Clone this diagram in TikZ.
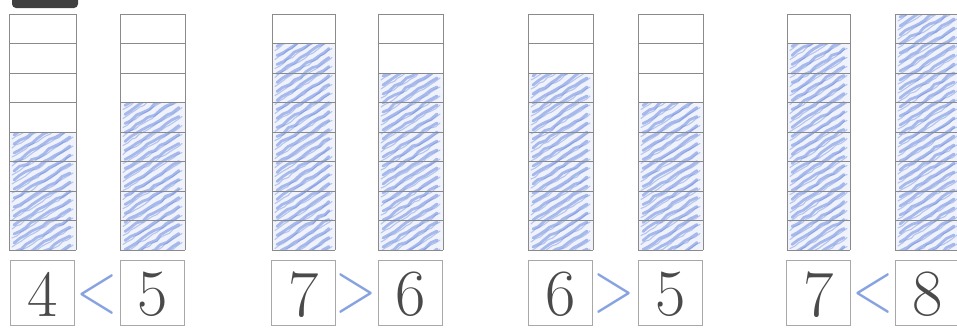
\documentclass[tikz,border=0pt]{standalone}
\usetikzlibrary{calc,decorations.pathmorphing}
\definecolor{cellline}{HTML}{8A8A8A}
\definecolor{boxline}{HTML}{A8A8A8}
\definecolor{hatchc}{HTML}{5F80DA}
\definecolor{hatchbg}{HTML}{F0F3FC}
\definecolor{numgray}{HTML}{4A4A4A}
\definecolor{cmpblue}{HTML}{86A2E0}
\tikzset{
  cellrule/.style={draw=cellline, line width=0.9pt},
  hatchstroke/.style={draw=hatchc, line width=2.8pt, line cap=round, opacity=0.5,
    decorate, decoration={random steps, segment length=7pt, amplitude=1.2pt}},
  hatchthin/.style={draw=hatchc, line width=1.1pt, line cap=round, opacity=0.4,
    decorate, decoration={random steps, segment length=5pt, amplitude=0.8pt}},
  numbox/.style={draw=boxline, line width=0.9pt, minimum width=64pt, minimum height=65pt, inner sep=0pt},
  numtext/.style={text=numgray, font=\fontsize{66}{66}\selectfont, inner sep=0pt},
  cmpsign/.style={text=cmpblue, font=\fontsize{72}{72}\selectfont, inner sep=0pt, xscale=0.75}
}
\pgfmathsetseed{7}
% #1 left x, #2 right x, #3 number of filled cells
\newcommand\barcolumn[3]{%
  \pgfmathsetmacro\ytopfill{250-29.5*#3}
  \begin{scope}
    \clip (#1,\ytopfill) rectangle (#2,250);
    \fill[hatchbg] (#1,\ytopfill) rectangle (#2,250);
    \foreach \yy in {3,12,...,300} {
      \draw[hatchstroke] (#1+5,\ytopfill+\yy) -- (#2-6,\ytopfill+\yy-34);
    }
    \foreach \yy in {7,16,...,300} {
      \draw[hatchthin] (#1+3,\ytopfill+\yy) -- (#2-3,\ytopfill+\yy-38);
    }
  \end{scope}
  \foreach \k in {0,...,8} {
    \draw[cellrule] (#1,14+29.5*\k) -- (#2,14+29.5*\k);
  }
  \draw[cellrule] (#1,14) -- (#1,250);
  \draw[cellrule] (#2,14) -- (#2,250);
}
\begin{document}
\begin{tikzpicture}[x=1pt,y=-1pt]
\useasboundingbox (0,0) rectangle (957,327);
\clip (0,0) rectangle (957,327);
\fill[white] (0,0) rectangle (957,327);
\fill[darkgray, rounded corners=4pt] (12,-12) rectangle (78,8);

\barcolumn{9}{76}{4}
\barcolumn{120}{185}{5}
\barcolumn{272}{335}{7}
\barcolumn{378}{443}{6}
\barcolumn{528}{593}{6}
\barcolumn{638}{703}{5}
\barcolumn{787}{850}{7}
\barcolumn{895}{960}{8}

\node[numbox] (b1) at (42.5,292.5) {};
\node[numbox] (b2) at (152.5,292.5) {};
\node[numbox] (b3) at (303.5,292.5) {};
\node[numbox] (b4) at (410.5,292.5) {};
\node[numbox] (b5) at (560.5,292.5) {};
\node[numbox] (b6) at (670.5,292.5) {};
\node[numbox] (b7) at (818.5,292.5) {};
\node[numbox] (b8) at (927.5,292.5) {};

\node[numtext] (t1) at ([yshift=-2pt]b1.center) {4};
\node[numtext] (t2) at ([yshift=-2pt]b2.center) {5};
\node[numtext] (t3) at ([yshift=-2pt]b3.center) {7};
\node[numtext] (t4) at ([yshift=-2pt]b4.center) {6};
\node[numtext] (t5) at ([yshift=-2pt]b5.center) {6};
\node[numtext] (t6) at ([yshift=-2pt]b6.center) {5};
\node[numtext] (t7) at ([yshift=-2pt]b7.center) {7};
\node[numtext] (t8) at ([yshift=-2pt]b8.center) {8};

\node[cmpsign] (c1) at (97.5,295) {<};
\node[cmpsign] (c2) at (356,294) {>};
\node[cmpsign] (c3) at (614,294) {>};
\node[cmpsign] (c4) at (873,294) {<};
\end{tikzpicture}
\end{document}
